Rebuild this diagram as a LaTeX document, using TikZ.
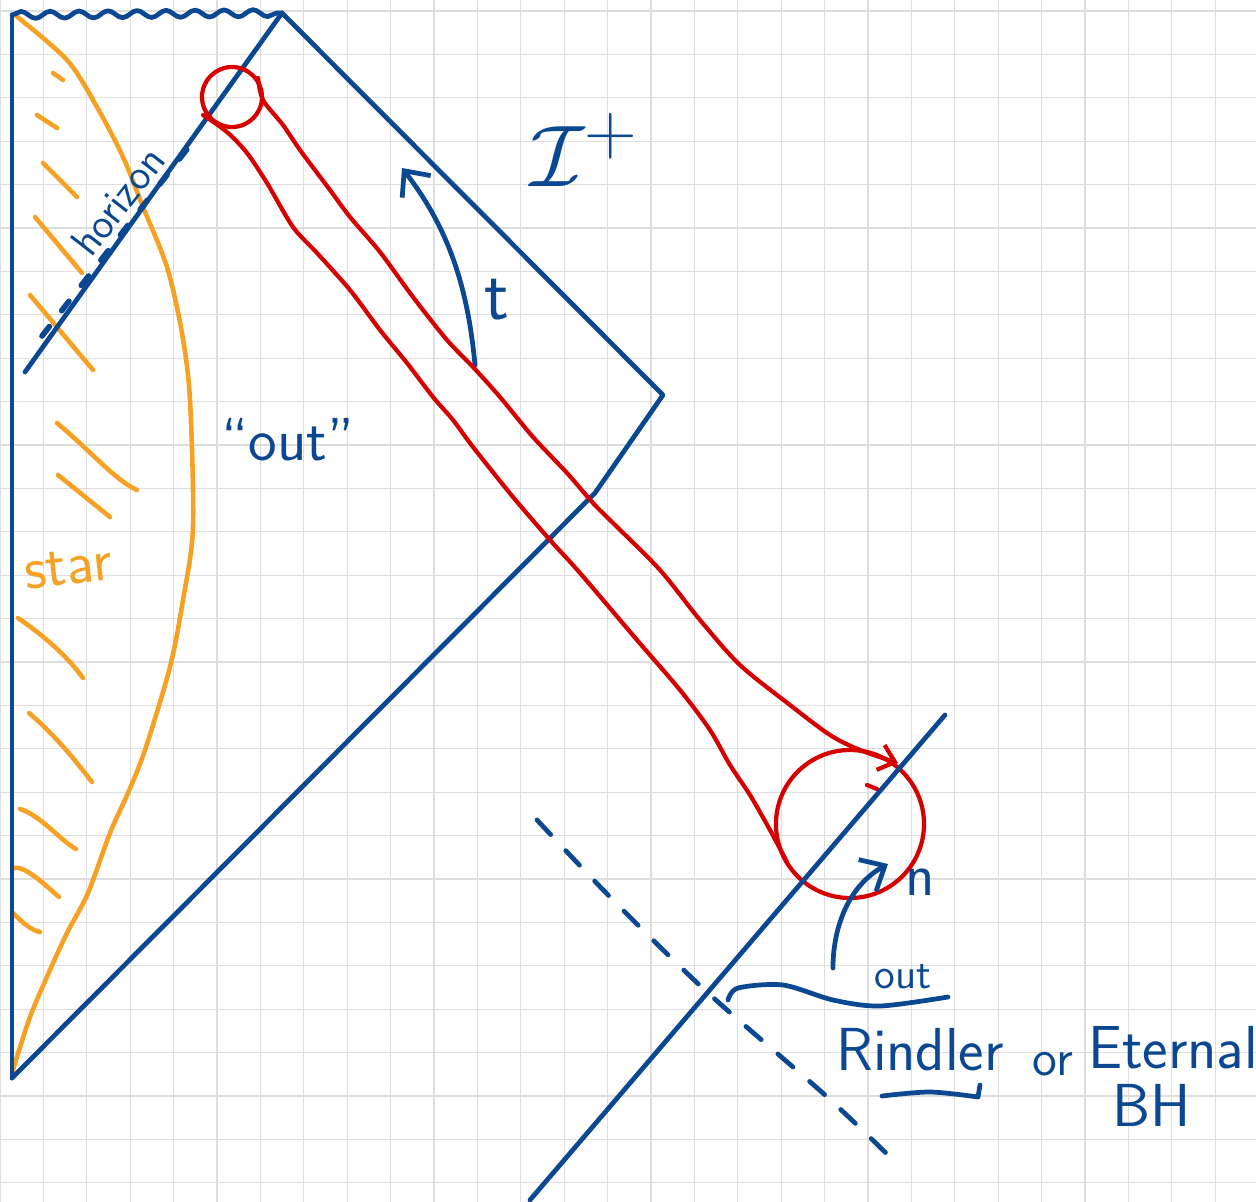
\documentclass[tikz,border=0pt]{standalone}
\usepackage{tikz}
\usetikzlibrary{arrows.meta, decorations.pathmorphing}
\definecolor{inkblue}{RGB}{12,72,145}
\definecolor{inkred}{RGB}{214,0,0}
\definecolor{inkorange}{RGB}{246,160,36}
\definecolor{gridgray}{RGB}{222,222,222}

\begin{document}
\begin{tikzpicture}[x=0.1mm, y=-0.1mm, line cap=round, line join=round,
  ink/.style={inkblue, line width=1.35pt},
  redink/.style={inkred, line width=1.2pt},
  hatch/.style={inkorange, line width=1.3pt},
  hand/.style={text=inkblue, font=\sffamily, inner sep=0pt},
  barb/.style={-{Straight Barb[length=2mm, width=3.6mm]}}]
  \useasboundingbox (0,0) rectangle (1256,1202);
  \fill[white] (0,0) rectangle (1256,1202);

  % paper grid
  \foreach \i in {0,...,28} \draw[gridgray, line width=0.3pt] (43.4*\i,0) -- (43.4*\i,1202);
  \foreach \j in {0,...,27} \draw[gridgray, line width=0.3pt] (0,11+43.4*\j) -- (1256,11+43.4*\j);

  % star
  \draw[hatch] plot[smooth] coordinates {(15,15) (67,60) (97,107) (123,157) (143,207) (167,267) (182,333) (190,400) (193,527) (183,600) (170,667) (145,750) (128,793) (110,833) (88,893) (67,933) (50,970) (30,1017) (12,1073)};
  \draw[hatch] (53,73) -- (63,80) (37,115) -- (57,128) (43,163) -- (77,197) (35,217) -- (82,273)
    (30,295) -- (93,370) (57,423) .. controls (95,455) and (115,480) .. (137,490) (58,475) -- (110,517)
    (18,618) .. controls (50,640) and (70,660) .. (83,678) (29,713) .. controls (55,735) and (75,760) .. (92,782)
    (20,809) .. controls (40,815) and (60,840) .. (76,849) (13,868) .. controls (25,865) and (45,885) .. (59,897)
    (13,913) .. controls (20,920) and (30,930) .. (40,932);
  \node[hand, text=inkorange, font=\sffamily\LARGE, rotate=6] (star) at (68,568) {star};

  % Penrose diagram
  \draw[ink] (12,15) -- (12,1078);
  \draw[ink, decorate, decoration={snake, amplitude=0.35mm, segment length=2.9mm}] (12,15) -- (282,13);
  \draw[ink] (12,1078) -- (595,493) -- (663,395) -- (282,13) -- (25,372);
  \draw[ink, line width=1.6pt, dash pattern=on 1.2mm off 2mm] (42,336) -- (198,135);
  \node[hand, font=\sffamily\large, rotate=52] (horizon) at (118,201) {horizon};
  \node[hand, font=\sffamily\LARGE] (outq) at (288,440) {``out''};
  \node[hand, font=\Huge] (scri) at (585,150) {$\mathcal{I}^+$};

  \coordinate (tfoot) at (475,365);
  \coordinate (ttip) at (402,168);
  \draw[ink, barb] (tfoot) .. controls (468,290) and (450,230) .. (ttip);
  \node[hand, font=\sffamily\huge] (tlabel) at (497,300) {t};

  % red tube
  \draw[redink] (232,97) circle[radius=3mm];
  \draw[redink] (850,824) circle[radius=7.4mm];
  \draw[redink, -{Straight Barb[length=1.5mm, width=2.6mm]}] plot[smooth] coordinates {(258,78) (263,100) (283,125) (300,150) (330,190) (350,217) (380,252) (413,297) (447,340) (473,367) (500,397) (533,437) (567,473) (593,503) (613,523) (660,570) (700,620) (740,665) (790,705) (830,735) (860,750) (898,763)};
  \draw[redink] plot[smooth] coordinates {(203,115) (227,132) (247,153) (267,183) (293,227) (317,253) (350,290) (380,330) (407,363) (433,397) (453,420) (473,447) (513,497) (550,540) (580,573) (637,640) (680,690) (710,730) (730,765) (750,795) (770,830) (787,862)};
  \draw[redink] (867,785) -- (877,789);

  % Rindler / eternal BH
  \draw[ink] (945,715) -- (530,1200);
  \draw[ink, dash pattern=on 2mm off 2.2mm] plot[smooth] coordinates {(537,820) (613,900) (707,992) (825,1095) (890,1157)};

  \coordinate (nfoot) at (833,968);
  \coordinate (ntip) at (888,864);
  \draw[ink, barb] (nfoot) .. controls (833,925) and (850,885) .. (ntip);
  \node[hand, font=\sffamily\LARGE] (nlabel) at (920,882) {n};

  \draw[ink] plot[smooth] coordinates {(728,1000) (738,988) (783,985) (833,1000) (880,1006) (948,997)};
  \node[hand, font=\sffamily\large] (outlabel) at (903,977) {out};
  \node[hand, font=\sffamily\LARGE] (rindler) at (920,1050) {Rindler};
  \draw[ink] plot[smooth] coordinates {(882,1096) (930,1092) (978,1097)} -- (980,1085);
  \node[hand, font=\sffamily\Large] (orlabel) at (1053,1064) {or};
  \node[hand, font=\sffamily\LARGE] (eternal) at (1173,1048) {Eternal};
  \node[hand, font=\sffamily\LARGE] (bh) at (1152,1105) {BH};
\end{tikzpicture}
\end{document}
